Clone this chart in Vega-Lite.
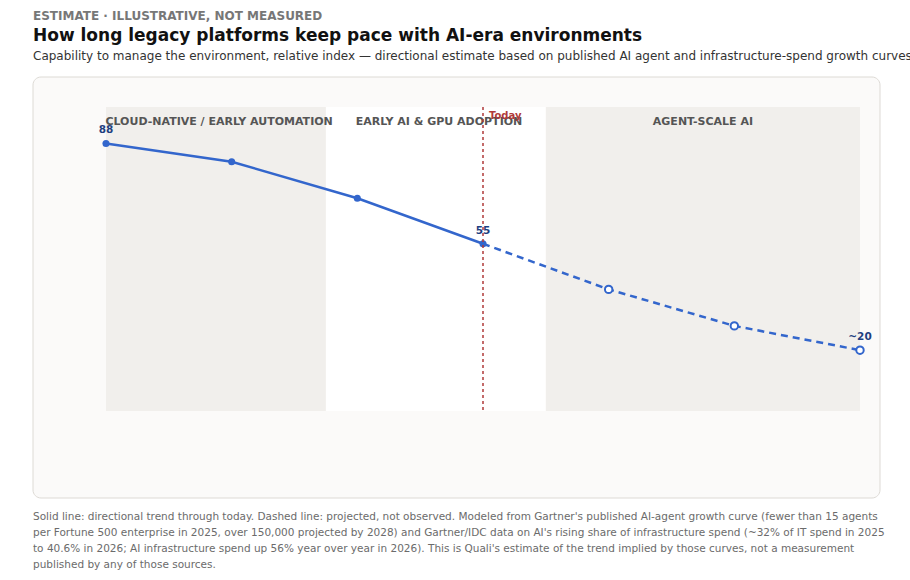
{
  "$schema": "https://vega.github.io/schema/vega-lite/v6.json",
  "width": 754,
  "height": 304,
  "autosize": "none",
  "padding": {"left": 106, "top": 107, "right": 50, "bottom": 169},
  "background": "#ffffff",
  "config": {"font": "DejaVu Sans", "view": {"stroke": null}, "axis": {"zindex": 1}},
  "datasets": {
    "bands": [
      {"start": 2023, "end": 2024.75, "label": "CLOUD-NATIVE / EARLY AUTOMATION", "mid": 2023.9, "fill": "#f1efec"},
      {"start": 2024.75, "end": 2026.5, "label": "EARLY AI & GPU ADOPTION", "mid": 2025.65, "fill": "#ffffff"},
      {"start": 2026.5, "end": 2029, "label": "AGENT-SCALE AI", "mid": 2027.75, "fill": "#f1efec"}
    ],
    "observed": [
      {"year": 2023, "value": 88},
      {"year": 2024, "value": 82},
      {"year": 2025, "value": 70},
      {"year": 2026, "value": 55}
    ],
    "projected": [
      {"year": 2026, "value": 55},
      {"year": 2027, "value": 40},
      {"year": 2028, "value": 28},
      {"year": 2029, "value": 20}
    ],
    "labels": [
      {"year": 2023, "value": 88, "text": "88"},
      {"year": 2026, "value": 55, "text": "55"},
      {"year": 2029, "value": 20, "text": "~20"}
    ]
  },
  "layer": [
    {
      "data": {"values": [{}]},
      "mark": {"type": "rect", "x": -73, "x2": 774, "y": -30, "y2": 391, "fill": "#fbfaf9", "stroke": "#dddad5", "cornerRadius": 8},
      "encoding": {}
    },
    {
      "data": {"values": [{}]},
      "mark": {"type": "text", "x": -73, "y": -91, "align": "left", "text": "ESTIMATE · ILLUSTRATIVE, NOT MEASURED", "fontSize": 12, "fontWeight": "bold", "color": "#777777", "letterSpacing": 1},
      "encoding": {}
    },
    {
      "data": {"values": [{}]},
      "mark": {"type": "text", "x": -73, "y": -71, "align": "left", "text": "How long legacy platforms keep pace with AI-era environments", "fontSize": 17, "fontWeight": "bold", "color": "#111111"},
      "encoding": {}
    },
    {
      "data": {"values": [{}]},
      "mark": {"type": "text", "x": -73, "y": -51, "align": "left", "text": "Capability to manage the environment, relative index — directional estimate based on published AI agent and infrastructure-spend growth curves", "fontSize": 12, "color": "#333333"},
      "encoding": {}
    },
    {
      "data": {"values": [{}]},
      "mark": {"type": "text", "x": -73, "y": 405, "align": "left", "baseline": "top", "lineHeight": 16, "fontSize": 10.5, "color": "#6b6b6b", "text": ["Solid line: directional trend through today. Dashed line: projected, not observed. Modeled from Gartner's published AI-agent growth curve (fewer than 15 agents", "per Fortune 500 enterprise in 2025, over 150,000 projected by 2028) and Gartner/IDC data on AI's rising share of infrastructure spend (~32% of IT spend in 2025", "to 40.6% in 2026; AI infrastructure spend up 56% year over year in 2026). This is Quali's estimate of the trend implied by those curves, not a measurement", "published by any of those sources."]},
      "encoding": {}
    },
    {
      "data": {"name": "bands"},
      "mark": {"type": "rect"},
      "encoding": {
        "x": {"field": "start", "type": "quantitative", "scale": {"domain": [2023, 2029], "nice": false}},
        "x2": {"field": "end"},
        "y": {"value": 0},
        "y2": {"value": 304},
        "fill": {"field": "fill", "type": "nominal", "scale": null}
      }
    },
    {
      "data": {"name": "bands"},
      "mark": {"type": "text", "fontSize": 11, "fontWeight": "bold", "color": "#555555", "y": 15, "letterSpacing": 0.5},
      "encoding": {
        "x": {"field": "mid", "type": "quantitative"},
        "text": {"field": "label"}
      }
    },
    {
      "data": {"name": "observed"},
      "mark": {"type": "line", "color": "#3366cc", "strokeWidth": 2.5, "point": {"filled": true, "size": 50, "color": "#3366cc"}},
      "encoding": {
        "x": {"field": "year", "type": "quantitative", "scale": {"domain": [2023, 2029], "nice": false},
          "axis": {"title": null, "format": "d", "values": [2023, 2024, 2025, 2026, 2027, 2028, 2029], "grid": false, "domainColor": "#999999", "tickColor": "#999999", "labelColor": "#333333", "labelFontSize": 11, "labelPadding": 6}},
        "y": {"field": "value", "type": "quantitative", "scale": {"domain": [0, 100]},
          "axis": {"title": "Relative capability index", "titleFontSize": 11, "titleFontWeight": "normal", "titleColor": "#444444", "values": [0, 20, 40, 60, 80, 100], "gridColor": "#e4e2de", "domain": false, "tickColor": "#999999", "labelColor": "#555555", "labelFontSize": 11, "titlePadding": 14}}
      }
    },
    {
      "data": {"name": "projected"},
      "mark": {"type": "line", "color": "#3366cc", "strokeWidth": 2.5, "strokeDash": [7, 5]},
      "encoding": {
        "x": {"field": "year", "type": "quantitative"},
        "y": {"field": "value", "type": "quantitative"}
      }
    },
    {
      "data": {"name": "projected"},
      "transform": [{"filter": "datum.year > 2026"}],
      "mark": {"type": "point", "filled": true, "fill": "#ffffff", "stroke": "#3366cc", "strokeWidth": 2, "size": 55, "opacity": 1},
      "encoding": {
        "x": {"field": "year", "type": "quantitative"},
        "y": {"field": "value", "type": "quantitative"}
      }
    },
    {
      "data": {"values": [{"year": 2026}]},
      "mark": {"type": "rule", "color": "#b03a3a", "strokeDash": [3, 3], "strokeWidth": 1.5},
      "encoding": {"x": {"field": "year", "type": "quantitative"}}
    },
    {
      "data": {"values": [{"year": 2026, "text": "Today"}]},
      "mark": {"type": "text", "align": "left", "dx": 6, "y": 9, "fontSize": 10, "fontWeight": "bold", "color": "#b03a3a"},
      "encoding": {"x": {"field": "year", "type": "quantitative"}, "text": {"field": "text"}}
    },
    {
      "data": {"name": "labels"},
      "mark": {"type": "text", "dy": -13, "fontSize": 10.5, "fontWeight": "bold", "color": "#1f3f80"},
      "encoding": {
        "x": {"field": "year", "type": "quantitative"},
        "y": {"field": "value", "type": "quantitative"},
        "text": {"field": "text"}
      }
    }
  ]
}
